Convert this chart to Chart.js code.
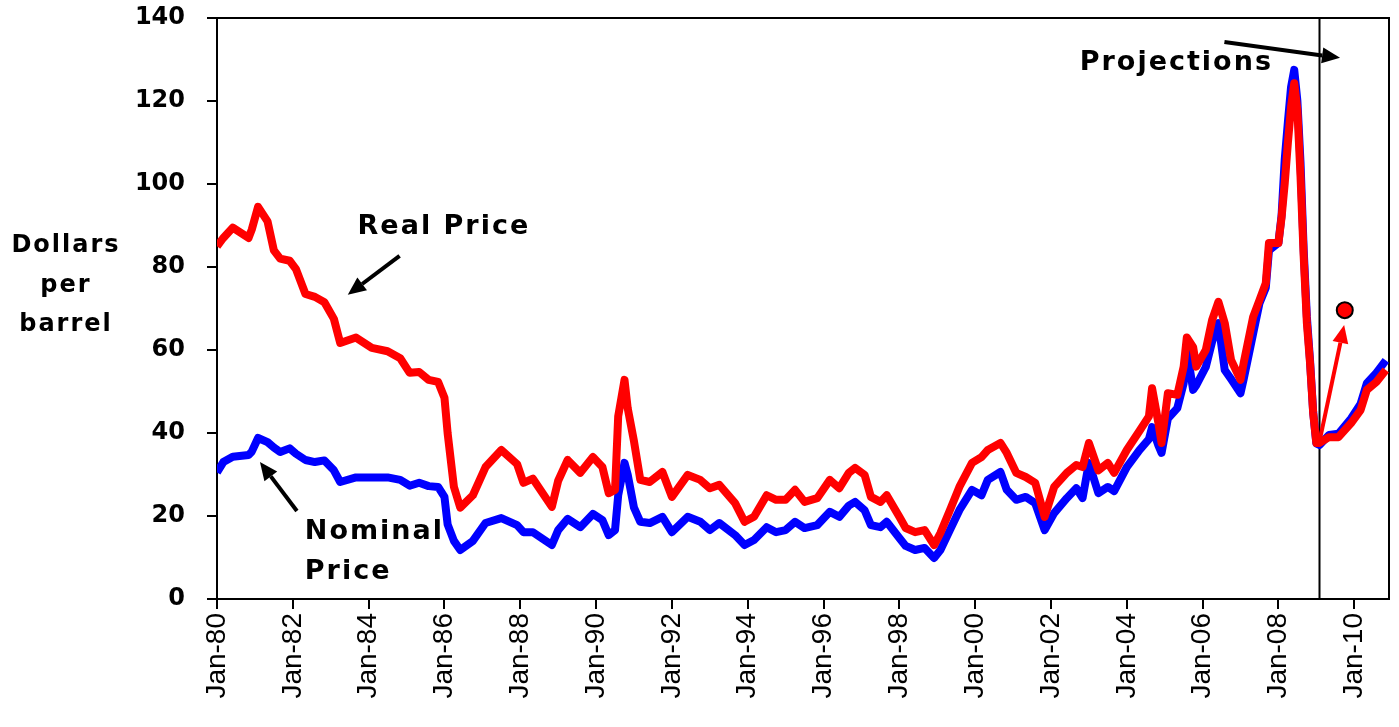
<!DOCTYPE html>
<html lang="en">
<head>
    <meta charset="UTF-8">
    <title>Oil price, real and nominal</title>
    <script src="https://cdn.jsdelivr.net/npm/chart.js"></script>
    <style>
        body { margin: 0; background: #ffffff; }
    </style>
</head>
<body>
    <canvas id="oilChart" width="1399" height="727"></canvas>
    <script>
        // months counted from Jan-80 (0 = Jan-80)
        const months = [0, 2, 5, 10, 11, 13, 16, 18, 20, 23, 25, 28, 31, 34, 37, 39, 44, 49, 54, 58,
            61, 64, 67, 70, 72, 73, 75, 77, 81, 85, 90, 95, 97, 100, 106, 108, 111, 115, 119, 122,
            124, 126, 127, 129, 130, 132, 134, 137, 141, 144, 149, 153, 156, 159, 164, 167, 170, 174, 177, 180,
            183, 186, 190, 194, 197, 200, 202, 205, 207, 210, 212, 216, 218, 221, 224, 227, 229, 232, 235, 239,
            242, 244, 248, 250, 253, 256, 259, 262, 265, 269, 272, 274, 276, 279, 282, 284, 288, 292, 295, 296,
            298, 299, 301, 304, 306, 307, 309, 310, 313, 315, 317, 319, 321, 324, 325, 328, 330, 332, 333, 336,
            337, 338, 339, 340, 341, 342, 343, 344, 345, 346, 347, 348, 349, 352, 355, 359, 362, 364, 367, 370];

        const realPrice = [85, 87, 89.5, 87, 89, 94.5, 91, 84, 82, 81.5, 79.5, 73.5, 72.8, 71.5, 67.5, 61.7, 63, 60.5, 59.7, 58,
            54.5, 54.7, 52.8, 52.3, 48.5, 40, 27, 22, 25, 31.8, 35.9, 32.5, 28, 29, 22.2, 28.5, 33.5, 30.4, 34.2, 31.8,
            25.5, 26.3, 44, 52.8, 46, 38, 28.7, 28.2, 30.6, 24.6, 29.9, 28.7, 26.7, 27.5, 23.1, 18.6, 19.8, 25, 23.9, 23.9,
            26.3, 23.4, 24.3, 28.7, 26.7, 30.4, 31.6, 29.9, 24.6, 23.4, 25, 19.8, 17.1, 16.1, 16.6, 13, 15.9, 21.4, 27, 32.8,
            34.2, 35.9, 37.6, 35.2, 30.4, 29.4, 28, 19.8, 27, 30.4, 32.3, 31.8, 37.6, 31, 32.8, 30.4, 35.9, 40.5, 44, 50.8,
            42.4, 37.6, 49.6, 49.2, 56, 63, 60.7, 56, 60, 67.2, 71.6, 66.5, 57.6, 52.8, 56.9, 68, 72, 76.1, 85.8, 85.8,
            92, 100.2, 110, 118.6, 124.3, 117.8, 101.7, 82.4, 66.5, 56.9, 44.8, 37.6, 37.6, 39, 39, 42.4, 45.5, 50.4, 52.3, 55.2];

        const nominalPrice = [30.5, 33, 34.3, 34.7, 35.5, 38.8, 37.8, 36.5, 35.4, 36.3, 35, 33.5, 33, 33.4, 31, 28.2, 29.3, 29.3, 29.3, 28.7,
            27.3, 28, 27.2, 27, 24.6, 18, 14, 11.8, 14, 18.3, 19.5, 17.8, 16.1, 16.1, 13, 16.6, 19.3, 17.3, 20.5, 19,
            15.4, 16.6, 25, 32.8, 30, 22, 18.6, 18.3, 19.8, 16.1, 19.8, 18.6, 16.6, 18.3, 15.4, 13, 14.2, 17.3, 16.1, 16.6,
            18.6, 17.1, 17.8, 21, 19.8, 22.5, 23.4, 21.4, 17.8, 17.3, 18.6, 14.7, 12.8, 11.8, 12.3, 9.9, 11.8, 16.6, 21.4, 26.3,
            25, 28.7, 30.6, 26.3, 23.9, 24.6, 23.1, 16.6, 20.7, 24.3, 26.7, 24.3, 32.8, 25.5, 27, 26, 31.8, 35.9, 38.5, 41.4,
            37, 35.2, 43.5, 46, 52, 60, 50.4, 51.5, 55.9, 62, 66.5, 55.2, 53, 49.6, 53, 64, 71.3, 75, 84, 85.8,
            92.5, 106, 115, 123.4, 127.5, 120, 105, 84, 68, 57.5, 45, 37.5, 37.1, 39.5, 39.8, 43.5, 47, 52, 54.5, 57.5];

        // projection marker (red dot) and start of projections
        const projectionStart = 349;
        const dotMonth = [357];
        const dotValue = [69.6];

        const yTicks = [0, 20, 40, 60, 80, 100, 120, 140];
        const xTickMonths = [0, 24, 48, 72, 96, 120, 144, 168, 192, 216, 240, 264, 288, 312, 336, 360];
        const xTickLabels = ['Jan-80', 'Jan-82', 'Jan-84', 'Jan-86', 'Jan-88', 'Jan-90', 'Jan-92', 'Jan-94',
            'Jan-96', 'Jan-98', 'Jan-00', 'Jan-02', 'Jan-04', 'Jan-06', 'Jan-08', 'Jan-10'];

        // annotation anchors in data units (month, dollars)
        const notes = [
            { text: 'Real Price', m: 44.5, v: 89.6 },
            { text: 'Nominal', m: 27.8, v: 16.1 },
            { text: 'Price', m: 27.8, v: 6.5 },
            { text: 'Projections', m: 273.1, v: 129.2 }
        ];
        const arrows = [
            { from: [57.8, 82.7], to: [41.4, 73.3], color: '#000000', width: 4 },
            { from: [25.3, 21.2], to: [13.6, 33], color: '#000000', width: 4 },
            { from: [318.9, 134.2], to: [355.5, 130.4], color: '#000000', width: 4 },
            { from: [349, 38], to: [356.8, 66], color: '#ff0000', width: 4 }
        ];

        const drawArrow = ( ctx, x1, y1, x2, y2, color, width ) => {
            const ang = Math.atan2( y2 - y1, x2 - x1 );
            const headLen = 18, headHalf = 8;
            const bx = x2 - headLen * Math.cos( ang ), by = y2 - headLen * Math.sin( ang );
            ctx.strokeStyle = color;
            ctx.fillStyle = color;
            ctx.lineWidth = width;
            ctx.beginPath();
            ctx.moveTo( x1, y1 );
            ctx.lineTo( bx, by );
            ctx.stroke();
            ctx.beginPath();
            ctx.moveTo( x2, y2 );
            ctx.lineTo( bx + headHalf * Math.sin( ang ), by - headHalf * Math.cos( ang ) );
            ctx.lineTo( bx - headHalf * Math.sin( ang ), by + headHalf * Math.cos( ang ) );
            ctx.closePath();
            ctx.fill();
        };

        const overlay = {
            id: 'overlay',
            beforeDraw( chart ) {
                const ctx = chart.ctx;
                ctx.save();
                ctx.fillStyle = '#ffffff';
                ctx.fillRect( 0, 0, chart.width, chart.height );
                ctx.restore();
            },
            beforeDatasetsDraw( chart ) {
                const { ctx, chartArea: a, scales: { x } } = chart;
                ctx.save();
                ctx.strokeStyle = '#000000';
                ctx.lineWidth = 2;
                const px = x.getPixelForValue( projectionStart );
                ctx.beginPath();
                ctx.moveTo( px, a.top );
                ctx.lineTo( px, a.bottom );
                ctx.stroke();
                ctx.beginPath();
                ctx.moveTo( a.left - 10, a.top );
                ctx.lineTo( a.right, a.top );
                ctx.lineTo( a.right, a.bottom );
                ctx.stroke();
                ctx.restore();
            },
            afterDatasetsDraw( chart ) {
                const { ctx, scales: { x, y } } = chart;
                ctx.save();
                for ( const ar of arrows ) {
                    drawArrow( ctx, x.getPixelForValue( ar.from[ 0 ] ), y.getPixelForValue( ar.from[ 1 ] ),
                        x.getPixelForValue( ar.to[ 0 ] ), y.getPixelForValue( ar.to[ 1 ] ), ar.color, ar.width );
                }
                ctx.fillStyle = '#000000';
                ctx.font = 'bold 27px "DejaVu Sans"';
                ctx.letterSpacing = '2px';
                ctx.textBaseline = 'middle';
                ctx.textAlign = 'left';
                for ( const n of notes ) {
                    ctx.fillText( n.text, x.getPixelForValue( n.m ), y.getPixelForValue( n.v ) );
                }
                // y axis title
                ctx.font = 'bold 24px "DejaVu Sans"';
                ctx.textAlign = 'center';
                ctx.fillText( 'Dollars', 66, 246 );
                ctx.fillText( 'per', 66, 286 );
                ctx.fillText( 'barrel', 66, 325 );
                ctx.restore();
            }
        };

        const toPoints = ( vals ) => months.map( ( m, i ) => ( { x: m, y: vals[ i ] } ) );

        const ctx = document.getElementById( 'oilChart' ).getContext( '2d' );
        const oilChart = new Chart( ctx, {
            type: 'line',
            data: {
                datasets: [
                    {
                        type: 'scatter',
                        label: 'Projection',
                        data: dotMonth.map( ( m, i ) => ( { x: m, y: dotValue[ i ] } ) ),
                        pointRadius: 8,
                        pointBackgroundColor: '#ff0000',
                        pointBorderColor: '#000000',
                        pointBorderWidth: 2
                    },
                    {
                        label: 'Real Price',
                        data: toPoints( realPrice ),
                        borderColor: '#ff0000',
                        borderWidth: 8,
                        pointRadius: 0,
                        tension: 0,
                        borderJoinStyle: 'round'
                    },
                    {
                        label: 'Nominal Price',
                        data: toPoints( nominalPrice ),
                        borderColor: '#0000ff',
                        borderWidth: 8,
                        pointRadius: 0,
                        tension: 0,
                        borderJoinStyle: 'round'
                    }
                ]
            },
            options: {
                responsive: false,
                animation: false,
                layout: { padding: { top: 18, right: 8, left: 0, bottom: 0 } },
                plugins: {
                    legend: { display: false },
                    tooltip: { enabled: false }
                },
                scales: {
                    x: {
                        type: 'linear',
                        min: 0,
                        max: 371,
                        afterBuildTicks: ( scale ) => {
                            scale.ticks = xTickMonths.map( v => ( { value: v } ) );
                        },
                        afterFit: ( scale ) => {
                            scale.height = 128;
                            scale.paddingLeft = 0;
                            scale.paddingRight = 0;
                        },
                        grid: { display: true, drawOnChartArea: false, drawTicks: true, tickLength: 10, color: '#000000', lineWidth: 2 },
                        border: { display: true, color: '#000000', width: 2 },
                        ticks: {
                            autoSkip: false,
                            maxRotation: 90,
                            minRotation: 90,
                            padding: 4,
                            color: '#000000',
                            font: { family: '"Liberation Sans", Arial', size: 28 },
                            callback: ( v ) => xTickLabels[ xTickMonths.indexOf( v ) ]
                        }
                    },
                    y: {
                        min: 0,
                        max: 140,
                        afterBuildTicks: ( scale ) => {
                            scale.ticks = yTicks.map( v => ( { value: v } ) );
                        },
                        afterFit: ( scale ) => {
                            scale.width = 217;
                            scale.paddingTop = 0;
                            scale.paddingBottom = 0;
                        },
                        grid: { display: true, drawOnChartArea: false, drawTicks: true, tickLength: 10, color: '#000000', lineWidth: 2 },
                        border: { display: true, color: '#000000', width: 2 },
                        ticks: {
                            padding: 22,
                            color: '#000000',
                            font: { family: '"DejaVu Sans"', size: 24, weight: 'bold' }
                        }
                    }
                }
            },
            plugins: [ overlay ]
        } );
    </script>
</body>
</html>
